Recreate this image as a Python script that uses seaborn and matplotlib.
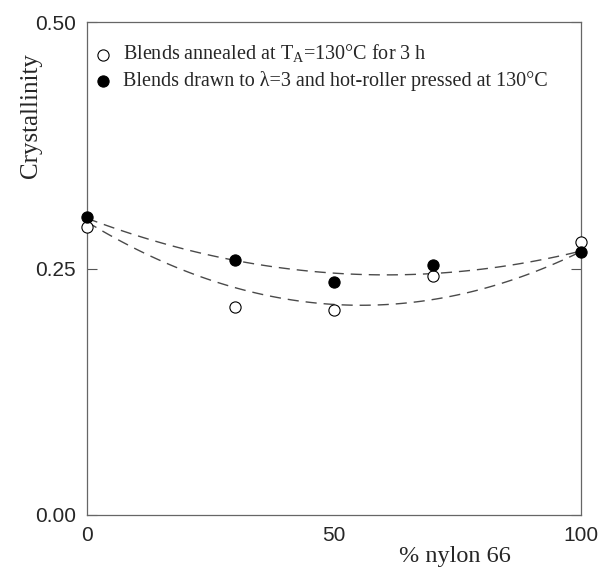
import matplotlib
matplotlib.use("Agg")
import matplotlib.pyplot as plt
import numpy as np
import pandas as pd
import seaborn as sns

# values
nylon_pct = [0, 30, 50, 70, 100]
annealed = [0.292, 0.2115, 0.208, 0.2425, 0.277]
drawn_pressed = [0.302, 0.259, 0.236, 0.254, 0.267]

# dashed trend curves at the same x positions
trend_annealed = [0.297, 0.232, 0.214, 0.217, 0.268]
trend_drawn = [0.301, 0.259, 0.245, 0.245, 0.268]

label_annealed = r"Blends annealed at T$_\mathrm{A}$=130°C for 3 h"
label_drawn = "Blends drawn to λ=3 and hot-roller pressed at 130°C"

sns.set_style("white")
plt.rcParams["font.family"] = ["Liberation Serif", "DejaVu Serif"]
plt.rcParams["mathtext.fontset"] = "custom"
plt.rcParams["mathtext.rm"] = "Liberation Serif"

df = pd.DataFrame({
    "pct": nylon_pct,
    "annealed": annealed,
    "drawn": drawn_pressed,
    "trend_annealed": trend_annealed,
    "trend_drawn": trend_drawn,
})

fig = plt.figure(figsize=(5.99, 5.72), dpi=100)
ax = fig.add_axes([0.145, 0.0997, 0.825, 0.8612])

line_kw = dict(color="#4a4a4a", linewidth=1.0, dashes=(8, 5))
sns.regplot(data=df, x="pct", y="trend_annealed", order=2, ci=None,
            scatter=False, line_kws=line_kw, ax=ax)
sns.regplot(data=df, x="pct", y="trend_drawn", order=2, ci=None,
            scatter=False, line_kws=line_kw, ax=ax)

sns.scatterplot(data=df, x="pct", y="annealed", s=65, color="white",
                edgecolor="black", linewidth=0.8, label=label_annealed,
                clip_on=False, zorder=4, ax=ax)
sns.scatterplot(data=df, x="pct", y="drawn", s=65, color="black",
                edgecolor="black", linewidth=0.8, label=label_drawn,
                clip_on=False, zorder=4, ax=ax)

ax.set_xlim(0, 100)
ax.set_ylim(0, 0.5)
ax.set_xticks([0, 50, 100])
ax.set_yticks([0, 0.25, 0.5])
ax.set_yticklabels(["0.00", "0.25", "0.50"])
for lab in ax.get_xticklabels() + ax.get_yticklabels():
    lab.set_family("Liberation Sans")
    lab.set_fontsize(15)
ax.tick_params(axis="x", length=0, pad=8)
ax.tick_params(axis="y", direction="in", length=7, width=0.8, color="#555555",
               right=True, left=True, pad=8)

for sp in ax.spines.values():
    sp.set_color("#666666")
    sp.set_linewidth(0.9)

ax.set_xlabel("% nylon 66", fontsize=17.5)
ax.set_ylabel("Crystallinity", fontsize=18)
ax.xaxis.set_label_coords(0.745, -0.062)
ax.yaxis.set_label_coords(-0.09, 0.81)

ax.legend(loc="upper left", bbox_to_anchor=(0.012, 0.958), frameon=False,
          fontsize=14.5, handlelength=1.0, handletextpad=0.5, borderpad=0,
          borderaxespad=0, labelspacing=0.3)

fig.savefig("out.png", dpi=100)
plt.close(fig)
